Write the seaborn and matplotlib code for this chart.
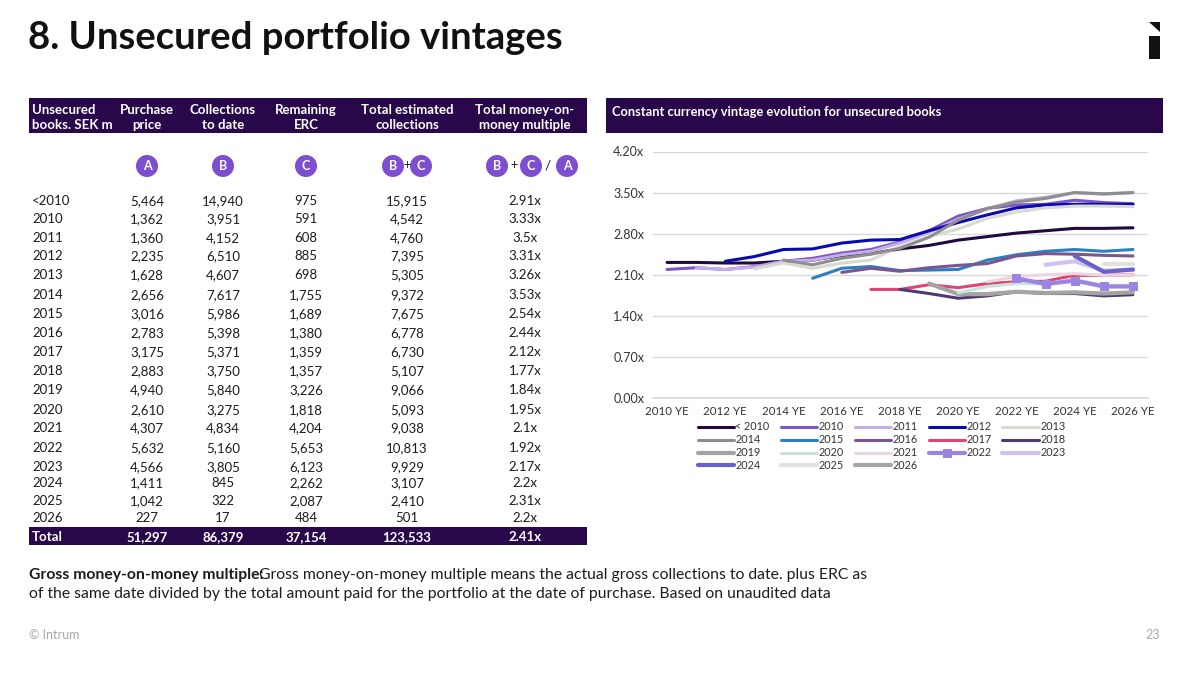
import numpy as np
import pandas as pd
import matplotlib
matplotlib.use("Agg")
import matplotlib.pyplot as plt
from matplotlib.patches import Circle, Polygon, Rectangle
import seaborn as sns

# table
row_names = ["<2010", "2010", "2011", "2012", "2013", "2014", "2015", "2016", "2017", "2018",
             "2019", "2020", "2021", "2022", "2023", "2024", "2025", "2026"]
purchase = ["5,464", "1,362", "1,360", "2,235", "1,628", "2,656", "3,016", "2,783", "3,175", "2,883",
            "4,940", "2,610", "4,307", "5,632", "4,566", "1,411", "1,042", "227"]
collections = ["14,940", "3,951", "4,152", "6,510", "4,607", "7,617", "5,986", "5,398", "5,371", "3,750",
               "5,840", "3,275", "4,834", "5,160", "3,805", "845", "322", "17"]
remaining = ["975", "591", "608", "885", "698", "1,755", "1,689", "1,380", "1,359", "1,357",
             "3,226", "1,818", "4,204", "5,653", "6,123", "2,262", "2,087", "484"]
total_est = ["15,915", "4,542", "4,760", "7,395", "5,305", "9,372", "7,675", "6,778", "6,730", "5,107",
             "9,066", "5,093", "9,038", "10,813", "9,929", "3,107", "2,410", "501"]
multiple = ["2.91x", "3.33x", "3.5x", "3.31x", "3.26x", "3.53x", "2.54x", "2.44x", "2.12x", "1.77x",
            "1.84x", "1.95x", "2.1x", "1.92x", "2.17x", "2.2x", "2.31x", "2.2x"]
total_row = ["51,297", "86,379", "37,154", "123,533", "2.41x"]

# chart
years = ["2010 YE", "2011 YE", "2012 YE", "2013 YE", "2014 YE", "2015 YE", "2016 YE", "2017 YE", "2018 YE",
         "2019 YE", "2020 YE", "2021 YE", "2022 YE", "2023 YE", "2024 YE", "2025 YE", "2026 YE"]
n = np.nan
v_pre = [2.31, 2.31, 2.30, 2.30, 2.33, 2.35, 2.43, 2.46, 2.54, 2.60, 2.69, 2.75, 2.81, 2.85, 2.89, 2.89, 2.90]
v_2010 = [2.19, 2.22, 2.19, 2.24, 2.33, 2.38, 2.47, 2.53, 2.66, 2.85, 3.10, 3.23, 3.29, 3.30, 3.37, 3.33, 3.31]
v_2011 = [n, 2.22, 2.19, 2.23, 2.33, 2.35, 2.44, 2.50, 2.64, 2.82, 3.05, 3.22, 3.36, 3.42, 3.50, 3.47, 3.50]
v_2012 = [n, n, 2.33, 2.41, 2.53, 2.54, 2.64, 2.69, 2.70, 2.85, 2.99, 3.12, 3.24, 3.29, 3.30, 3.30, 3.30]
v_2013 = [n, n, n, 2.20, 2.30, 2.21, 2.30, 2.35, 2.58, 2.75, 2.88, 3.06, 3.17, 3.24, 3.27, 3.27, 3.26]
v_2014 = [n, n, n, n, 2.35, 2.27, 2.38, 2.45, 2.55, 2.74, 3.03, 3.23, 3.34, 3.40, 3.50, 3.48, 3.50]
v_2015 = [n, n, n, n, n, 2.04, 2.21, 2.24, 2.17, 2.18, 2.19, 2.35, 2.44, 2.50, 2.53, 2.50, 2.53]
v_2016 = [n, n, n, n, n, n, 2.14, 2.21, 2.16, 2.22, 2.26, 2.29, 2.42, 2.46, 2.45, 2.43, 2.42]
v_2017 = [n, n, n, n, n, n, n, 1.85, 1.85, 1.93, 1.88, 1.95, 1.98, 1.99, 2.09, 2.09, 2.10]
v_2018 = [n, n, n, n, n, n, n, n, 1.85, 1.78, 1.70, 1.74, 1.81, 1.78, 1.78, 1.74, 1.76]
v_2019 = [n, n, n, n, n, n, n, n, n, 1.95, 1.77, 1.77, 1.81, 1.79, 1.80, 1.78, 1.80]
v_2020 = [n, n, n, n, n, n, n, n, n, n, 1.79, 1.90, 1.95, 1.95, 2.02, 1.92, 1.91]
v_2021 = [n, n, n, n, n, n, n, n, n, n, n, 1.98, 2.07, 2.10, 2.12, 2.09, 2.10]
v_2022 = [n, n, n, n, n, n, n, n, n, n, n, n, 2.04, 1.94, 2.00, 1.90, 1.90]
v_2023 = [n, n, n, n, n, n, n, n, n, n, n, n, n, 2.27, 2.33, 2.17, 2.18]
v_2024 = [n, n, n, n, n, n, n, n, n, n, n, n, n, n, 2.42, 2.15, 2.19]
v_2025 = [n, n, n, n, n, n, n, n, n, n, n, n, n, n, n, 2.28, 2.28]
v_2026 = [n, n, n, n, n, n, n, n, n, n, n, n, n, n, n, n, 2.20]
series_names = ["< 2010", "2010", "2011", "2012", "2013", "2014", "2015", "2016", "2017", "2018",
                "2019", "2020", "2021", "2022", "2023", "2024", "2025", "2026"]
series_vals = [v_pre, v_2010, v_2011, v_2012, v_2013, v_2014, v_2015, v_2016, v_2017, v_2018,
               v_2019, v_2020, v_2021, v_2022, v_2023, v_2024, v_2025, v_2026]
colors = ["#22083f", "#7d55c7", "#c3aee6", "#0a0ab0", "#d9d9cf", "#8e8e8e", "#2a80c0", "#7a5590", "#e0456f",
          "#4f3a70", "#a5a3a3", "#c8e2e0", "#ecd5e2", "#9c84e2", "#d2c0f0", "#6a62cc", "#e2e2dc", "#a5a5a5"]
widths = [2.2, 2.2, 2.2, 2.2, 2.2, 2.2, 2.2, 2.2, 2.2, 2.2, 3, 2.2, 2.2, 3, 3, 3, 3, 3]

W, H = 1200, 674
purple = "#28084b"
accent = "#7d4fd0"
text_c = "#1c1c1c"
sns.set_theme(style="white")
plt.rcParams["font.family"] = ["Lato", "DejaVu Sans"]

fig = plt.figure(figsize=(W / 100, H / 100), dpi=100, facecolor="white")
bg = fig.add_axes([0, 0, 1, 1])
bg.set_xlim(0, W)
bg.set_ylim(H, 0)
bg.axis("off")

bg.text(28, 38, "8. Unsecured portfolio vintages", fontsize=27.5, weight="bold", color="#111111", va="center")

# logo
bg.add_patch(Polygon([(1149, 22), (1160, 22), (1160, 32)], color="#111111", lw=0))
bg.add_patch(Rectangle((1149, 36), 11, 23, color="#111111", lw=0))

# table header
bg.add_patch(Rectangle((29, 98), 558, 35, color=purple, lw=0))
bg.text(32, 110, "Unsecured", fontsize=9.5, weight="bold", color="white", va="center")
bg.text(32, 125, "books. SEK m", fontsize=9.5, weight="bold", color="white", va="center")
col_x = [147, 223, 306, 407, 525]
head1 = ["Purchase", "Collections", "Remaining", "Total estimated", "Total money-on-"]
head2 = ["price", "to date", "ERC", "collections", "money multiple"]
for x, a, b in zip(col_x, head1, head2):
    bg.text(x, 110, a, fontsize=9.5, weight="bold", color="white", ha="center", va="center")
    bg.text(x, 125, b, fontsize=9.5, weight="bold", color="white", ha="center", va="center")


def badge(x, letter):
    bg.add_patch(Circle((x, 166), 11, color=accent, lw=0))
    bg.text(x, 166, letter, fontsize=9, weight="bold", color="white", ha="center", va="center")


for x, letter in [(147, "A"), (223, "B"), (306, "C"), (393, "B"), (421, "C"),
                  (497, "B"), (531, "C"), (567, "A")]:
    badge(x, letter)
bg.text(407, 165, "+", fontsize=9, color=text_c, ha="center", va="center")
bg.text(514, 165, "+", fontsize=9, color=text_c, ha="center", va="center")
bg.text(548, 165, "/", fontsize=10, color=text_c, ha="center", va="center")

row_y = [201, 219, 238, 256, 275, 295, 314, 333, 352, 371, 390, 410, 428, 448, 467, 483, 501, 518]
for i, y in enumerate(row_y):
    bg.text(32, y, row_names[i], fontsize=9.5, color=text_c, va="center")
    for x, col in zip(col_x, [purchase, collections, remaining, total_est, multiple]):
        bg.text(x, y, col[i], fontsize=9.5, color=text_c, ha="center", va="center")

bg.add_patch(Rectangle((29, 527), 558, 18, color=purple, lw=0))
bg.text(32, 537, "Total", fontsize=9.5, weight="bold", color="white", va="center")
for x, val in zip(col_x, total_row):
    bg.text(x, 537, val, fontsize=9.5, weight="bold", color="white", ha="center", va="center")

# footnote
t = bg.text(29, 575, "Gross money-on-money multiple:", fontsize=11.3, weight="bold", color=text_c, va="center")
bg.text(259, 575, "Gross money-on-money multiple means the actual gross collections to date. plus ERC as",
        fontsize=11.3, color=text_c, va="center")
bg.text(29, 594, "of the same date divided by the total amount paid for the portfolio at the date of purchase. Based on unaudited data",
        fontsize=11.3, color=text_c, va="center")
bg.text(29, 635, "© Intrum", fontsize=9, color="#a8a8a8", va="center")
bg.text(1160, 635, "23", fontsize=9, color="#a8a8a8", ha="right", va="center")

# chart header
bg.add_patch(Rectangle((606, 98), 557, 35, color=purple, lw=0))
bg.text(612, 112, "Constant currency vintage evolution for unsecured books", fontsize=9.3, weight="bold",
        color="white", va="center")

# chart, pixel box runs from the 4.20x gridline to the 0.00x one
left, right, top, bottom = 652.5, 1147.5, 151.5, 398
ax = fig.add_axes([left / W, 1 - bottom / H, (right - left) / W, (bottom - top) / H])
ax.patch.set_alpha(0)

df = pd.DataFrame({"year": years})
for name, vals in zip(series_names, series_vals):
    df[name] = vals
long_df = df.melt(id_vars="year", var_name="vintage", value_name="multiple")

for name, c, lw in zip(series_names, colors, widths):
    part = long_df[long_df["vintage"] == name]
    if name == "2022":
        sns.lineplot(data=part, x="year", y="multiple", ax=ax, color=c, lw=lw, marker="s", ms=6,
                     mec=c, label=name, sort=False, errorbar=None)
    else:
        sns.lineplot(data=part, x="year", y="multiple", ax=ax, color=c, lw=lw, label=name, sort=False,
                     errorbar=None)

ax.set_xlim(-0.5, 16.5)
ax.set_ylim(0, 4.2)
ax.set_xlabel("")
ax.set_ylabel("")
ax.set_yticks([0, 0.7, 1.4, 2.1, 2.8, 3.5, 4.2])
ax.set_yticklabels(["0.00x", "0.70x", "1.40x", "2.10x", "2.80x", "3.50x", "4.20x"], fontsize=9, color="#333333")
ax.set_xticks(range(0, 17, 2))
ax.set_xticklabels(years[::2], fontsize=8.3, color="#333333")
ax.tick_params(axis="both", length=0, pad=6)
ax.grid(axis="y", color="#d9d9d9", lw=1)
ax.set_axisbelow(True)
sns.despine(ax=ax, left=True, bottom=False)
ax.spines["bottom"].set_color("#d9d9d9")
ax.spines["top"].set_visible(False)

handles, labels = ax.get_legend_handles_labels()
# matplotlib fills the columns first, the reference reads row by row
rows = [handles[i:i + 5] for i in range(0, 18, 5)]
lab_rows = [labels[i:i + 5] for i in range(0, 18, 5)]
col_h, col_l = [], []
for c in range(5):
    for r in range(4):
        if c < len(rows[r]):
            col_h.append(rows[r][c])
            col_l.append(lab_rows[r][c])
ax.legend(col_h, col_l, ncol=5, loc="upper left", bbox_to_anchor=(45 / 495, -0.095), frameon=False, fontsize=7.8,
          labelspacing=0.18, columnspacing=1.0, handlelength=3.4, handletextpad=0.1, labelcolor="#333333",
          borderpad=0, borderaxespad=0)

fig.savefig("out.png", dpi=100)
